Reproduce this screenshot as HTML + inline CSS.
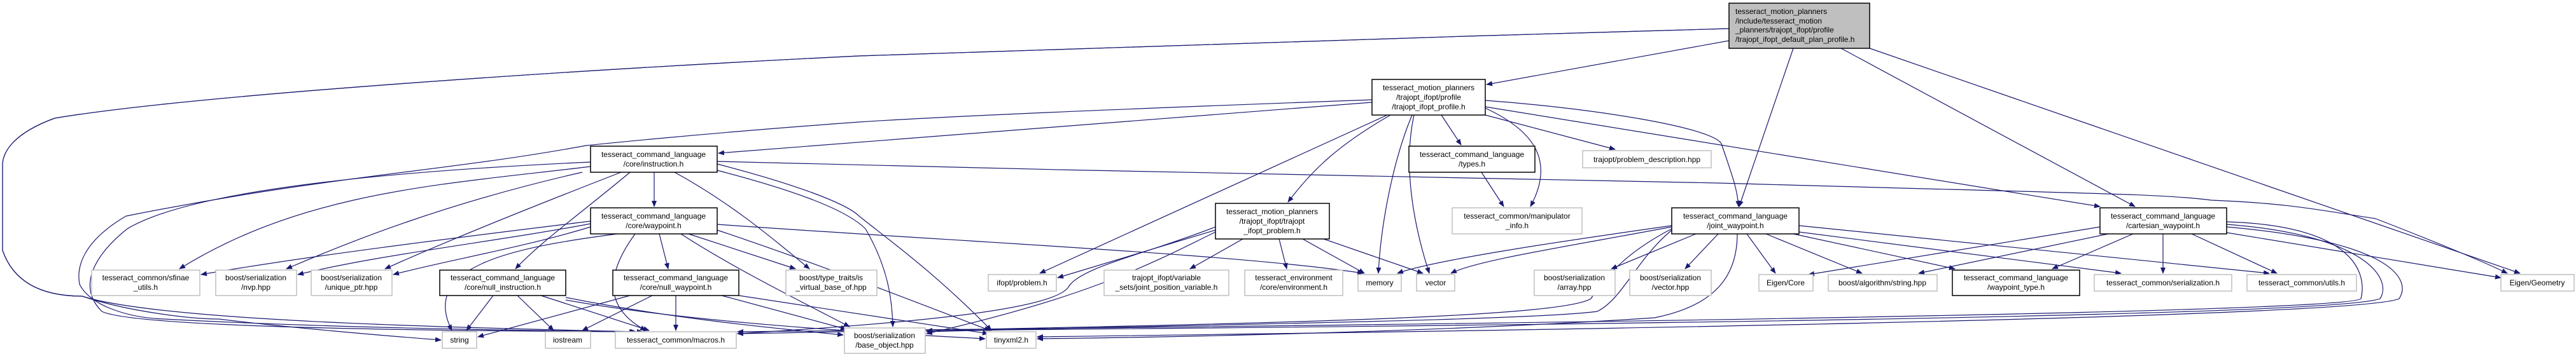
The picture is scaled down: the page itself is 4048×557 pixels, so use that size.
<!DOCTYPE html>
<html><head><meta charset="utf-8"><style>
html,body{margin:0;padding:0;background:#fff;}
svg{display:block;}
text{font-family:"Liberation Sans",sans-serif;font-size:12px;fill:#000;}
.e{fill:none;stroke:#191970;stroke-width:1.2;marker-end:url(#a);}
.g{fill:#fff;stroke:#bfbfbf;stroke-width:1.5;}
.b{fill:#fff;stroke:#000;stroke-width:1.5;}
</style></head><body>
<svg width="4048" height="557" viewBox="0 0 4048 557" xmlns="http://www.w3.org/2000/svg">
<defs><marker id="a" markerWidth="10" markerHeight="8" refX="9" refY="4" orient="auto" markerUnits="userSpaceOnUse"><path d="M0,0 L10,4 L0,8 z" fill="#191970"/></marker></defs>

<!-- edges from main -->
<path class="e" d="M2717,64 L2336,133"/>
<path class="e" d="M2717,45 C2200,60 1500,80 1350,88 C900,110 300,150 86,186 C20,210 4,240 4,260 L4,394 C20,440 60,466 129,466 C200,490 300,502 344,502 C450,515 600,528 693,535"/>
<path class="e" d="M2717,45 C2200,60 1500,80 1350,88 C900,110 300,150 86,186 C20,210 4,240 4,260 L4,394 C20,440 60,466 129,466 C250,505 700,515 1000,522"/>
<path class="e" d="M2818,76 L2733,325"/>
<path class="e" d="M2893,76 L3355,325"/>
<path class="e" d="M2938,76 L3960,430"/>

<!-- edges from P -->
<path class="e" d="M2156,161 L1129,241"/>
<path class="e" d="M2156,157 C1800,170 1500,182 1350,192 C1100,210 921,229 921,229 C700,270 517,276 198,340 C130,380 120,420 125,447 C140,480 200,500 258,502 C500,515 800,520 1010,522"/>
<path class="e" d="M2185,181 C2100,230 2060,270 2024,318"/>
<path class="e" d="M2180,181 L1634,430"/>
<path class="e" d="M2219,181 C2190,250 2170,350 2166,430"/>
<path class="e" d="M2222,181 C2205,260 2220,350 2246,430"/>
<path class="e" d="M2265,181 L2296,228"/>
<path class="e" d="M2334,170 C2420,210 2440,260 2405,325"/>
<path class="e" d="M2334,181 L2538,235"/>
<path class="e" d="M2334,158 C2500,170 2690,200 2705,226 C2726,287 2730,300 2732,325"/>
<path class="e" d="M2334,168 L3300,325"/>
<path class="e" d="M2328,271 L2363,325"/>

<!-- edges from I -->
<path class="e" d="M1127,254 C1700,270 2600,285 2700,288 C3300,305 3400,305 3475,315 C3600,320 3647,331 3733,344 C3800,370 3900,410 3940,430"/>
<path class="e" d="M1028,271 L1028,325"/>
<path class="e" d="M928,262 C700,290 480,300 282,423"/>
<path class="e" d="M915,271 C700,320 550,380 450,423"/>
<path class="e" d="M976,271 C850,320 700,380 605,423"/>
<path class="e" d="M990,271 C920,330 850,380 810,423"/>
<path class="e" d="M1060,271 C1150,320 1220,380 1272,423"/>
<path class="e" d="M1127,268 C1250,300 1330,330 1360,360 C1395,420 1402,470 1403,514"/>
<path class="e" d="M1127,258 C1250,290 1330,320 1350,340 C1400,380 1470,430 1558,520"/>
<path class="e" d="M928,255 C600,270 300,300 200,360 C150,400 120,450 160,490 C200,510 500,520 998,522"/>

<!-- edges from W -->
<path class="e" d="M928,348 C750,370 500,400 316,432"/>
<path class="e" d="M928,352 C780,380 600,400 468,432"/>
<path class="e" d="M928,357 C820,390 700,410 618,432"/>
<path class="e" d="M970,368 C800,390 660,420 710,520"/>
<path class="e" d="M998,368 C960,420 940,480 1015,520"/>
<path class="e" d="M1036,368 L1050,423"/>
<path class="e" d="M1082,368 L1250,423"/>
<path class="e" d="M1070,368 C1150,420 1250,470 1335,514"/>
<path class="e" d="M1127,362 C1300,420 1450,480 1556,520"/>
<path class="e" d="M1127,353 C1500,380 1950,400 2142,430"/>

<!-- null instruction / null waypoint -->
<path class="e" d="M775,465 L733,520"/>
<path class="e" d="M813,465 L870,520"/>
<path class="e" d="M850,465 L1020,520"/>
<path class="e" d="M889,468 C1050,500 1200,515 1325,527"/>
<path class="e" d="M889,472 C1100,510 1400,525 1548,533"/>
<path class="e" d="M990,465 L751,530"/>
<path class="e" d="M1025,465 L915,520"/>
<path class="e" d="M1062,465 L1062,520"/>
<path class="e" d="M1134,465 L1330,518"/>
<path class="e" d="M1161,465 L1553,525"/>

<!-- T -->
<path class="e" d="M1910,362 L1662,437"/>
<path class="e" d="M1953,376 L1870,423"/>
<path class="e" d="M2010,376 L2022,423"/>
<path class="e" d="M2047,376 L2144,430"/>
<path class="e" d="M2080,376 L2236,430"/>
<path class="e" d="M1910,357 C1800,400 1700,420 1680,450 C1660,490 1400,510 1159,525"/>
<path class="e" d="M1910,365 C1800,420 1700,470 1456,525"/>

<!-- J -->
<path class="e" d="M2627,355 C2450,380 2250,410 2196,430"/>
<path class="e" d="M2627,357 C2450,390 2320,410 2280,430"/>
<path class="e" d="M2665,368 L2532,423"/>
<path class="e" d="M2700,368 L2648,423"/>
<path class="e" d="M2745,368 L2790,430"/>
<path class="e" d="M2775,368 L2926,430"/>
<path class="e" d="M2818,368 L3072,423"/>
<path class="e" d="M2827,365 L3333,430"/>
<path class="e" d="M2827,355 L3566,430"/>
<path class="e" d="M2627,360 C2550,400 2520,440 2500,470 C2450,500 2000,510 1159,525"/>
<path class="e" d="M2627,362 C2570,410 2550,470 2510,490 C2400,505 1800,512 1456,522"/>
<path class="e" d="M2730,368 C2730,430 2700,480 2600,500 C2300,520 1900,530 1630,533"/>

<!-- C -->
<path class="e" d="M3300,357 L2842,432"/>
<path class="e" d="M3313,368 L3015,430"/>
<path class="e" d="M3352,368 L3225,423"/>
<path class="e" d="M3399,368 L3399,430"/>
<path class="e" d="M3444,368 L3578,430"/>
<path class="e" d="M3499,366 L3930,437"/>
<path class="e" d="M3499,349 C3700,355 3720,430 3710,470 C3700,480 3400,500 1159,522"/>
<path class="e" d="M3499,353 C3720,370 3760,440 3740,470 C3700,485 3300,505 1456,520"/>
<path class="e" d="M3499,357 C3760,380 3790,440 3770,470 C3730,488 3200,510 1630,530"/>

<!-- nodes -->
<rect x="2717" y="5" width="221" height="71" fill="#bfbfbf" stroke="#000" stroke-width="1.5"/>
<text x="2727" y="22">tesseract_motion_planners</text>
<text x="2727" y="37">/include/tesseract_motion</text>
<text x="2727" y="51">_planners/trajopt_ifopt/profile</text>
<text x="2727" y="66">/trajopt_ifopt_default_plan_profile.h</text>

<g text-anchor="middle">
<rect class="b" x="2156" y="125" width="178" height="56"/>
<text x="2245" y="142">tesseract_motion_planners</text>
<text x="2245" y="157">/trajopt_ifopt/profile</text>
<text x="2245" y="172">/trajopt_ifopt_profile.h</text>

<rect class="b" x="928" y="230" width="199" height="41"/>
<text x="1027" y="247">tesseract_command_language</text>
<text x="1027" y="262">/core/instruction.h</text>

<rect class="b" x="928" y="327" width="199" height="41"/>
<text x="1027" y="344">tesseract_command_language</text>
<text x="1027" y="359">/core/waypoint.h</text>

<rect class="b" x="2214" y="230" width="198" height="41"/>
<text x="2313" y="247">tesseract_command_language</text>
<text x="2313" y="262">/types.h</text>

<rect class="g" x="2487" y="237" width="202" height="27"/>
<text x="2588" y="255">trajopt/problem_description.hpp</text>

<rect class="b" x="1910" y="320" width="179" height="56"/>
<text x="1999" y="337">tesseract_motion_planners</text>
<text x="1999" y="352">/trajopt_ifopt/trajopt</text>
<text x="1999" y="367">_ifopt_problem.h</text>

<rect class="g" x="2282" y="327" width="204" height="41"/>
<text x="2384" y="344">tesseract_common/manipulator</text>
<text x="2384" y="359">_info.h</text>

<rect class="b" x="2627" y="327" width="200" height="41"/>
<text x="2727" y="344">tesseract_command_language</text>
<text x="2727" y="359">/joint_waypoint.h</text>

<rect class="b" x="3300" y="327" width="199" height="41"/>
<text x="3399" y="344">tesseract_command_language</text>
<text x="3399" y="359">/cartesian_waypoint.h</text>

<rect class="g" x="144" y="425" width="170" height="40"/>
<text x="229" y="441">tesseract_common/sfinae</text>
<text x="229" y="456">_utils.h</text>

<rect class="g" x="339" y="425" width="127" height="40"/>
<text x="402" y="441">boost/serialization</text>
<text x="402" y="456">/nvp.hpp</text>

<rect class="g" x="489" y="425" width="127" height="40"/>
<text x="552" y="441">boost/serialization</text>
<text x="552" y="456">/unique_ptr.hpp</text>

<rect class="b" x="691" y="425" width="198" height="40"/>
<text x="790" y="441">tesseract_command_language</text>
<text x="790" y="456">/core/null_instruction.h</text>

<rect class="b" x="963" y="425" width="198" height="40"/>
<text x="1062" y="441">tesseract_command_language</text>
<text x="1062" y="456">/core/null_waypoint.h</text>

<rect class="g" x="1235" y="425" width="143" height="40"/>
<text x="1306" y="441">boost/type_traits/is</text>
<text x="1306" y="456">_virtual_base_of.hpp</text>

<rect class="g" x="1553" y="432" width="107" height="26"/>
<text x="1606" y="449">ifopt/problem.h</text>

<rect class="g" x="1735" y="425" width="196" height="40"/>
<text x="1833" y="441">trajopt_ifopt/variable</text>
<text x="1833" y="456">_sets/joint_position_variable.h</text>

<rect class="g" x="1956" y="425" width="154" height="40"/>
<text x="2033" y="441">tesseract_environment</text>
<text x="2033" y="456">/core/environment.h</text>

<rect class="g" x="2134" y="432" width="68" height="26"/>
<text x="2168" y="449">memory</text>

<rect class="g" x="2226" y="432" width="60" height="26"/>
<text x="2256" y="449">vector</text>

<rect class="g" x="2411" y="425" width="127" height="40"/>
<text x="2474" y="441">boost/serialization</text>
<text x="2474" y="456">/array.hpp</text>

<rect class="g" x="2561" y="425" width="128" height="40"/>
<text x="2625" y="441">boost/serialization</text>
<text x="2625" y="456">/vector.hpp</text>

<rect class="g" x="2764" y="432" width="85" height="26"/>
<text x="2806" y="449">Eigen/Core</text>

<rect class="g" x="2873" y="432" width="171" height="26"/>
<text x="2958" y="449">boost/algorithm/string.hpp</text>

<rect class="b" x="3068" y="425" width="200" height="40"/>
<text x="3168" y="441">tesseract_command_language</text>
<text x="3168" y="456">/waypoint_type.h</text>

<rect class="g" x="3291" y="432" width="216" height="26"/>
<text x="3399" y="449">tesseract_common/serialization.h</text>

<rect class="g" x="3531" y="432" width="172" height="26"/>
<text x="3617" y="449">tesseract_common/utils.h</text>

<rect class="g" x="3930" y="432" width="115" height="26"/>
<text x="3987" y="449">Eigen/Geometry</text>

<rect class="g" x="695" y="522" width="54" height="26"/>
<text x="722" y="539">string</text>

<rect class="g" x="857" y="522" width="71" height="26"/>
<text x="892" y="539">iostream</text>

<rect class="g" x="967" y="522" width="190" height="26"/>
<text x="1062" y="539">tesseract_common/macros.h</text>

<rect class="g" x="1327" y="516" width="127" height="40"/>
<text x="1390" y="532">boost/serialization</text>
<text x="1390" y="547">/base_object.hpp</text>

<rect class="g" x="1550" y="522" width="78" height="26"/>
<text x="1589" y="539">tinyxml2.h</text>
</g>
</svg>
</body></html>
